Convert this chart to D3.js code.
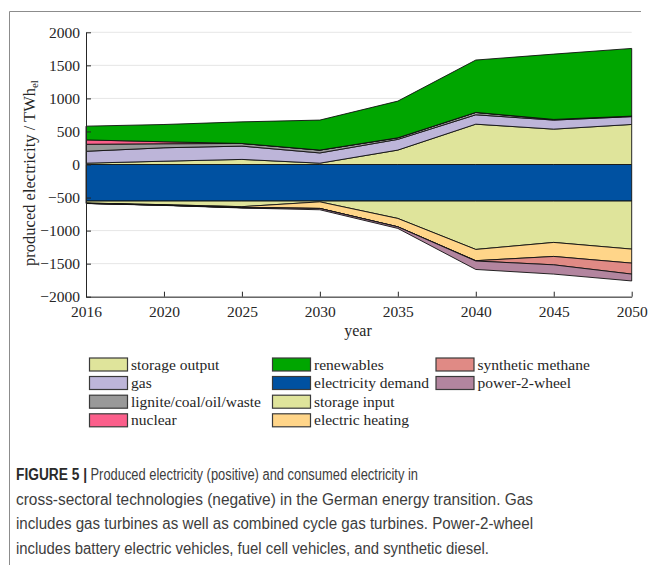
<!DOCTYPE html>
<html>
<head>
<meta charset="utf-8">
<script src="https://cdn.jsdelivr.net/npm/d3@7"></script>
<style>
  body { margin: 0; background: #fff; }
  svg { display: block; }
</style>
</head>
<body>
<svg id="chart" width="652" height="565"></svg>
<script>
// Years (equally spaced scenario steps)
const years = ["2016", "2020", "2025", "2030", "2035", "2040", "2045", "2050"];

// Produced electricity, TWh_el (positive side, stacked bottom → top)
const storageOutput = [20, 50, 77, 20, 218, 610, 535, 606];
const gas           = [180, 203, 201, 155, 162, 142, 137, 118];
const lignite       = [106, 61, 40, 43, 24, 36, 10, 8];
const nuclear       = [66, 30, 0, 0, 0, 0, 0, 0];
const renewables    = [208, 261, 327, 454, 555, 792, 988, 1024];

// Consumed electricity, TWh_el (negative side, stacked top → bottom)
const electricityDemand = [-553, -553, -553, -553, -553, -553, -553, -553];
const storageInput      = [-30, -55, -85, -12, -263, -732, -626, -727];
const electricHeating   = [-5, -8, -15, -100, -127, -170, -212, -212];
const syntheticMethane  = [0, 0, 0, 0, 0, -5, -127, -166];
const power2wheel       = [-2, -3, -5, -20, -24, -128, -140, -104];

const yTicks = [-2000, -1500, -1000, -500, 0, 500, 1000, 1500, 2000];

const series = [
  { key: "storage output",         values: storageOutput,     color: "#dfe49b", side: "pos" },
  { key: "gas",                    values: gas,               color: "#bdb5d9", side: "pos" },
  { key: "lignite/coal/oil/waste", values: lignite,           color: "#999999", side: "pos" },
  { key: "nuclear",                values: nuclear,           color: "#fb5f8b", side: "pos" },
  { key: "renewables",             values: renewables,        color: "#00a600", side: "pos" },
  { key: "electricity demand",     values: electricityDemand, color: "#0051a1", side: "neg" },
  { key: "storage input",          values: storageInput,      color: "#dfe49b", side: "neg" },
  { key: "electric heating",       values: electricHeating,   color: "#ffd589", side: "neg" },
  { key: "synthetic methane",      values: syntheticMethane,  color: "#e08a85", side: "neg" },
  { key: "power-2-wheel",          values: power2wheel,       color: "#b3859f", side: "neg" }
];

const rows = years.map((yr, i) => {
  const r = { year: yr };
  series.forEach(s => { r[s.key] = s.values[i]; });
  return r;
});

const svg = d3.select("#chart");
const serif = "'Liberation Serif', 'DejaVu Serif', serif";
const axisColor = "#262626";

const plotLeft = 86, plotRight = 631.7, plotTop = 32.3, plotBottom = 296.7;
const x = d3.scalePoint().domain(years).range([plotLeft, plotRight]);
const y = d3.scaleLinear().domain([-2000, 2000]).range([plotBottom, plotTop]);

// Frame around the figure panel
svg.append("path")
  .attr("d", `M9.5,565 L9.5,11.5 L641,11.5`)
  .attr("fill", "none").attr("stroke", "#8c8c8c").attr("stroke-width", 1);

// Horizontal grid
svg.append("g").selectAll("line").data(yTicks).join("line")
  .attr("x1", plotLeft).attr("x2", plotRight)
  .attr("y1", d => y(d)).attr("y2", d => y(d))
  .attr("stroke", "#e6e6e6").attr("stroke-width", 1);

// Stacks
const posKeys = series.filter(s => s.side === "pos").map(s => s.key);
const negKeys = series.filter(s => s.side === "neg").map(s => s.key);
const stacked = [
  ...d3.stack().keys(negKeys)(rows),
  ...d3.stack().keys(posKeys)(rows)
];
const colorOf = k => series.find(s => s.key === k).color;

const area = d3.area()
  .x(d => x(d.data.year))
  .y0(d => y(d[0]))
  .y1(d => y(d[1]));

svg.append("g").selectAll("path").data(stacked).join("path")
  .attr("d", area)
  .attr("fill", d => colorOf(d.key))
  .attr("stroke", "#111")
  .attr("stroke-width", 0.9)
  .attr("stroke-linejoin", "round");

// Axes
const fmt = d => d < 0 ? "\u2212" + Math.abs(d) : String(d);
const yAxis = svg.append("g").attr("transform", `translate(${plotLeft},0)`)
  .call(d3.axisLeft(y).tickValues(yTicks).tickFormat(fmt)
    .tickSizeInner(-5).tickSizeOuter(0).tickPadding(6));
const xAxis = svg.append("g").attr("transform", `translate(0,${plotBottom})`)
  .call(d3.axisBottom(x).tickSizeInner(-5).tickSizeOuter(0).tickPadding(9));
[yAxis, xAxis].forEach(g => {
  g.select(".domain").attr("stroke", axisColor).attr("stroke-width", 1);
  g.selectAll(".tick line").attr("stroke", axisColor);
  g.selectAll("text").attr("font-family", serif).attr("font-size", 15.5).attr("fill", axisColor);
});

// Axis titles
const yl = svg.append("text")
  .attr("transform", "translate(35,173) rotate(-90)")
  .attr("text-anchor", "middle")
  .attr("font-family", serif).attr("font-size", 16.5).attr("fill", axisColor);
yl.append("tspan").text("produced electricity / TWh");
yl.append("tspan").attr("font-size", 11).attr("dy", 3).text("el");

svg.append("text")
  .attr("x", 358).attr("y", 336)
  .attr("text-anchor", "middle")
  .attr("font-family", serif).attr("font-size", 16).attr("fill", axisColor)
  .text("year");

// Legend: three columns, four rows
const legendCols = [89.5, 272.5, 436];
const legendRows = [364.5, 383, 401.7, 420.3];
const legend = svg.append("g").selectAll("g").data(series).join("g")
  .attr("transform", (d, i) => {
    const col = i < 4 ? 0 : i < 8 ? 1 : 2;
    const row = i < 4 ? i : i < 8 ? i - 4 : i - 8;
    return `translate(${legendCols[col]},${legendRows[row]})`;
  });
legend.append("rect")
  .attr("x", 0).attr("y", -6.5).attr("width", 38).attr("height", 13)
  .attr("fill", d => d.color).attr("stroke", "#3a3a3a").attr("stroke-width", 1.2);
legend.append("text")
  .attr("x", 41.5).attr("y", 5)
  .attr("font-family", serif).attr("font-size", 15.5).attr("fill", axisColor)
  .text(d => d.key);

// Caption
const sans = "'Liberation Sans', Arial, sans-serif";
const capColor = "#3d3d3d";
svg.append("text")
  .attr("x", 16).attr("y", 480)
  .attr("font-family", sans).attr("font-size", 16).attr("font-weight", "bold")
  .attr("fill", "#2a2a2a")
  .attr("textLength", 71).attr("lengthAdjust", "spacingAndGlyphs")
  .text("FIGURE 5 |");
const capLines = [
  { x: 90.5, y: 480, w: 327.5, t: "Produced electricity (positive) and consumed electricity in" },
  { x: 16, y: 504.5, w: 517, t: "cross-sectoral technologies (negative) in the German energy transition. Gas" },
  { x: 16, y: 529, w: 517, t: "includes gas turbines as well as combined cycle gas turbines. Power-2-wheel" },
  { x: 16, y: 553.5, w: 473, t: "includes battery electric vehicles, fuel cell vehicles, and synthetic diesel." }
];
svg.append("g").selectAll("text").data(capLines).join("text")
  .attr("x", d => d.x).attr("y", d => d.y)
  .attr("font-family", sans).attr("font-size", 16).attr("fill", capColor)
  .attr("textLength", d => d.w).attr("lengthAdjust", "spacingAndGlyphs")
  .text(d => d.t);
</script>
</body>
</html>
